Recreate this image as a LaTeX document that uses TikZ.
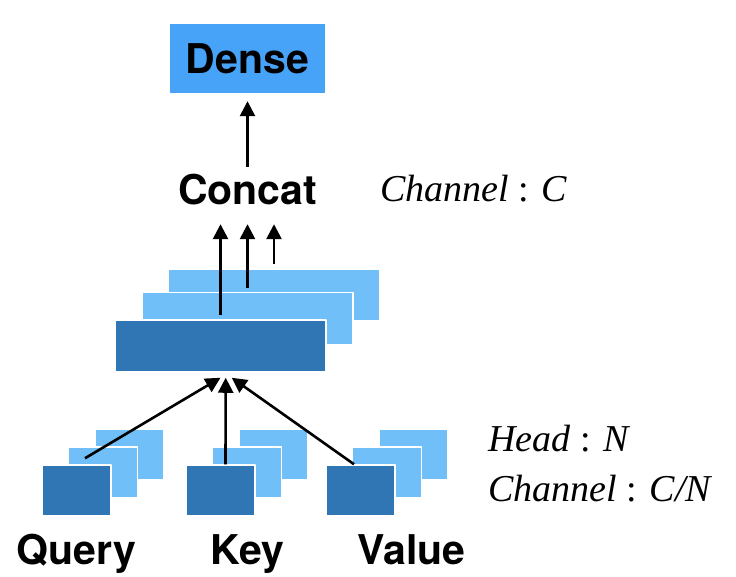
\documentclass[tikz,border=0pt]{standalone}
\usepackage{fontspec}
\setmainfont{Liberation Serif}
\newfontfamily\headfont{TeX Gyre Heros}
\usetikzlibrary{arrows.meta}
\definecolor{densecol}{RGB}{70,163,248}
\definecolor{lightcol}{RGB}{113,191,248}
\definecolor{darkcol}{RGB}{49,118,180}
\begin{document}
\begin{tikzpicture}[x=1pt,y=-1pt,line join=round,
	layer/.style={draw=white,line width=1.5pt,minimum width=211pt,minimum height=52pt,inner sep=0pt},
	headbox/.style={draw=white,line width=1.5pt,minimum width=69pt,minimum height=51pt,inner sep=0pt},
	word/.style={font=\headfont\bfseries\fontsize{41}{49}\selectfont,text height=29.5pt,text depth=0pt,inner sep=0pt},
	note/.style={font=\fontsize{38}{46}\selectfont,anchor=base west,inner sep=0pt},
	arr/.style={-{Triangle[length=15pt 0 0,width=15pt 0 0]},line width=2.6pt}]
			\useasboundingbox (0,0) rectangle (736,576);
			\node[word,fill=densecol,minimum width=155pt,minimum height=69pt] (dense) at (247.5,58.5) {Dense};
			\node[word,anchor=base,inner ysep=20pt] (concat) at (247.5,204) {Concat};
			\node[note] (chanC) at (380,201.7) {\textit{Channel} : \textit{C}};
			\node[layer,fill=lightcol] (back) at (274,295) {};
			\node[layer,fill=lightcol] (mid) at (247.5,318.3) {};
			\node[layer,fill=darkcol] (front) at (220.5,346) {};
			\foreach \n/\x in {q/76.5,k/220.5,v/360.5}{
				\node[headbox,fill=lightcol] (\n3) at (\x+53,454.5) {};
				\node[headbox,fill=lightcol] (\n2) at (\x+26.5,472.5) {};
				\node[headbox,fill=darkcol] (\n1) at (\x,490.5) {};
			}
			\node[word,anchor=base] (query) at (76.4,564.3) {Query};
			\node[word,anchor=base] (key) at (247.5,564.3) {Key};
			\node[word,anchor=base] (value) at (411.7,564.3) {Value};
			\node[note] (head) at (488.3,451.7) {\textit{Head} : \textit{N}};
			\node[note] (chanCN) at (488.3,501.7) {\textit{Channel} : \textit{C/N}};
			\draw[arr] ([yshift=-12.5pt]concat.north) -- ([yshift=-8pt]dense.south);
			\foreach \b in {front,mid,back}
				\draw[arr] ([yshift=4pt]\b.north) -- (\b.north |- concat.south);
			\draw[arr] ([xshift=8.5pt,yshift=6pt]q1.north) -- ([yshift=-5pt]front.south);
			\draw[arr] ([xshift=5pt]k1.north) -- ([xshift=5.2pt,yshift=-5pt]front.south);
			\draw[arr] ([xshift=-6.5pt]v1.north) -- ([xshift=11.2pt,yshift=-5pt]front.south);
		\end{tikzpicture}
\end{document}
